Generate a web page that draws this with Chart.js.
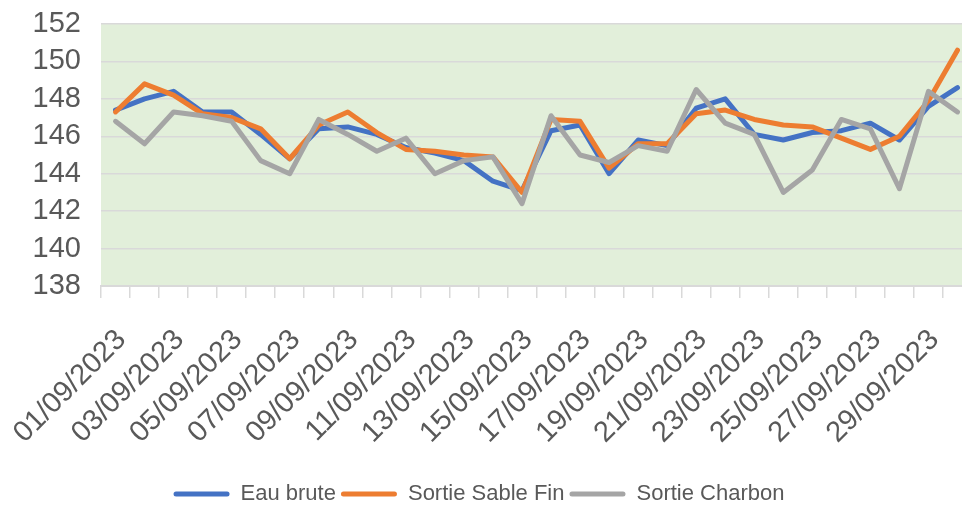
<!DOCTYPE html>
<html><head><meta charset="utf-8">
<script src="https://cdn.jsdelivr.net/npm/chart.js@4.4.1/dist/chart.umd.min.js"></script>
<style>
html,body{margin:0;padding:0;background:#fff;overflow:hidden;width:962px;height:505px;}
#wrap{position:absolute;left:-14px;top:0;width:986px;height:505px;}
</style></head><body>
<div id="wrap"><canvas id="c"></canvas></div>
<script>
const categories = ['01/09/2023','02/09/2023','03/09/2023','04/09/2023','05/09/2023','06/09/2023','07/09/2023','08/09/2023','09/09/2023','10/09/2023',
  '11/09/2023','12/09/2023','13/09/2023','14/09/2023','15/09/2023','16/09/2023','17/09/2023','18/09/2023','19/09/2023','20/09/2023',
  '21/09/2023','22/09/2023','23/09/2023','24/09/2023','25/09/2023','26/09/2023','27/09/2023','28/09/2023','29/09/2023','30/09/2023'];
const eauBrute = [147.4,148.0,148.4,147.3,147.3,146.1,144.8,146.4,146.5,146.1,145.4,145.1,144.7,143.6,143.1,146.3,146.6,144.0,145.8,145.5,147.5,148.0,146.1,145.8,146.2,146.3,146.7,145.8,147.6,148.6];
const sortieSableFin = [147.3,148.8,148.2,147.2,147.0,146.4,144.8,146.6,147.3,146.2,145.3,145.2,145.0,144.9,143.0,146.9,146.8,144.3,145.6,145.6,147.2,147.4,146.9,146.6,146.5,145.9,145.3,146.0,147.9,150.6];
const sortieCharbon = [146.8,145.6,147.3,147.1,146.8,144.7,144.0,146.9,146.1,145.2,145.9,144.0,144.7,144.9,142.4,147.1,145.0,144.6,145.5,145.2,148.5,146.7,146.1,143.0,144.2,146.9,146.4,143.2,148.4,147.3];
const seriesNames = ['Eau brute','Sortie Sable Fin','Sortie Charbon'];
const yMin = 138, yMax = 152, yStep = 2;

const FONT = "'Liberation Sans', Arial, sans-serif";
const TXT = '#595959';
const GRID = '#d9d9d9';

const bgPlugin = {
  id: 'plotBg',
  beforeDraw(chart) {
    const {ctx, chartArea: a} = chart;
    ctx.save();
    ctx.fillStyle = '#e2efda';
    ctx.fillRect(a.left, a.top, a.right - a.left, a.bottom - a.top);
    ctx.restore();
  }
};

function ds(label, data, color, order) {
  return {label, data, borderColor: color, backgroundColor: color, borderWidth: 5,
    pointRadius: 0, pointHoverRadius: 0, tension: 0, fill: false,
    borderJoinStyle: 'round', borderCapStyle: 'round', order};
}

new Chart(document.getElementById('c'), {
  type: 'line',
  data: {
    labels: categories,
    datasets: [
      ds(seriesNames[0], eauBrute, '#4472c4', 2),
      ds(seriesNames[1], sortieSableFin, '#ed7d31', 1),
      ds(seriesNames[2], sortieCharbon, '#a5a5a5', 0)
    ]
  },
  options: {
    responsive: true, maintainAspectRatio: false, animation: false, devicePixelRatio: 1,
    layout: {padding: {top: 24, left: 0, right: 0, bottom: -10}},
    plugins: {
      tooltip: {enabled: false},
      legend: {
        position: 'bottom',
        labels: {
          font: {family: FONT, size: 22}, color: TXT,
          boxWidth: 56, boxHeight: 5, padding: 5, useBorderRadius: true, borderRadius: 2.5,
          sort: (a, b) => a.datasetIndex - b.datasetIndex,
          generateLabels(chart) {
            const items = Chart.defaults.plugins.legend.labels.generateLabels(chart);
            return items.map(it => Object.assign(it, {lineWidth: 0, borderRadius: 2.5}));
          }
        }
      }
    },
    scales: {
      x: {
        offset: true,
        grid: {offset: true, drawOnChartArea: false, drawTicks: true, tickLength: 12, color: GRID, lineWidth: 1.5},
        border: {display: true, color: GRID, width: 2},
        ticks: {
          autoSkip: false, maxRotation: 45, minRotation: 45, padding: 25, labelOffset: 6,
          font: {family: FONT, size: 29}, color: TXT,
          callback: (v, i) => (i % 2 === 0 ? categories[i] : '')
        },
        afterFit: s => { s.height = 192; s.paddingLeft = 0; s.paddingRight = 0; }
      },
      y: {
        min: yMin, max: yMax,
        ticks: {stepSize: yStep, autoSkip: false, padding: 20, font: {family: FONT, size: 29}, color: TXT},
        grid: {color: GRID, lineWidth: 1.5, drawTicks: false},
        border: {display: false},
        afterFit: s => { s.width = 115; s.paddingTop = 0; s.paddingBottom = 0; }
      }
    }
  },
  plugins: [bgPlugin]
});
</script>
</body></html>
